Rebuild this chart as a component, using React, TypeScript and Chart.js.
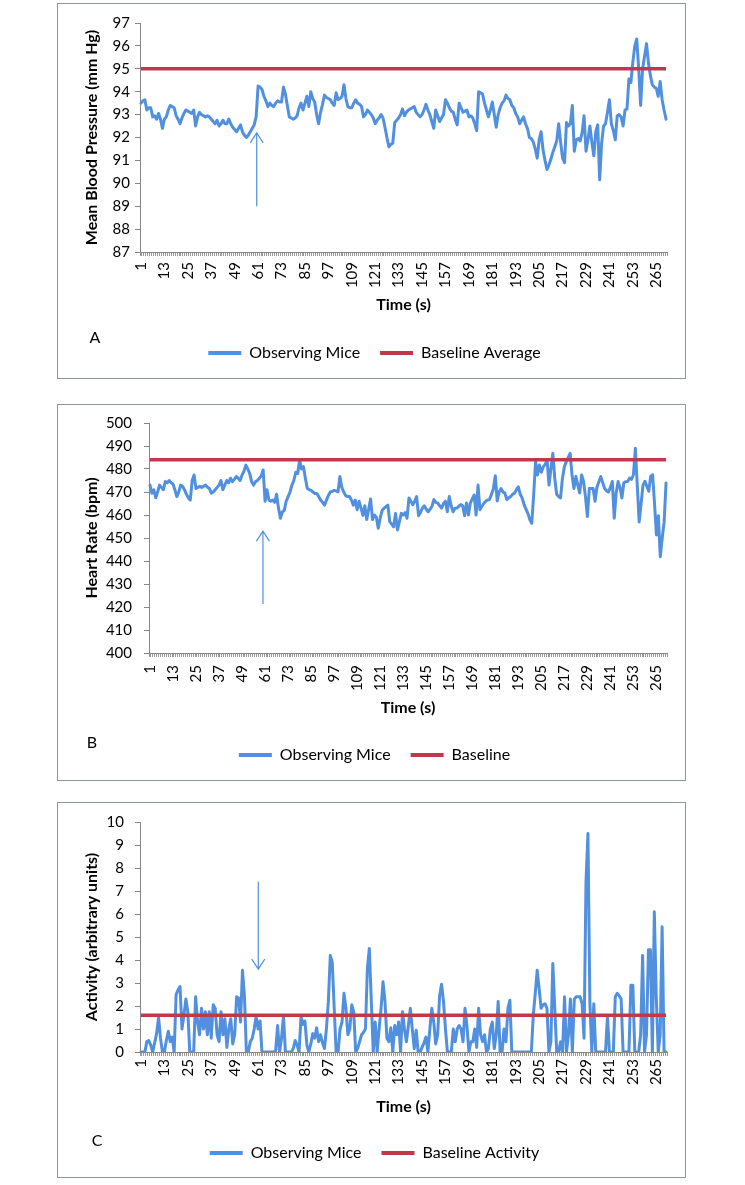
import React, { useEffect, useRef } from 'react';
import { Chart, registerables } from 'chart.js';

Chart.register(...registerables);

// ---------------- DATA ----------------
const timeSeconds: string[] = Array.from({ length: 270 }, (_, i) => String(i + 1));
const shownTickLabels: string[] = ['1', '13', '25', '37', '49', '61', '73', '85', '97', '109', '121', '133', '145', '157', '169', '181', '193', '205', '217', '229', '241', '253', '265'];

const bloodPressure: number[] = [
  93.5, 93.6, 93.65, 93.2, 93.3, 93.3, 92.9, 92.95, 92.8, 93.05,
  92.8, 92.4, 92.8, 92.9, 93.2, 93.4, 93.35, 93.3, 92.95, 92.8,
  92.6, 92.85, 93.05, 93.2, 93.15, 93.1, 93.05, 93.2, 92.5, 92.9,
  93.1, 93.0, 92.95, 92.9, 92.95, 92.9, 92.8, 92.7, 92.6, 92.75,
  92.5, 92.6, 92.75, 92.6, 92.6, 92.8, 92.6, 92.45, 92.35, 92.25,
  92.4, 92.55, 92.25, 92.1, 92.0, 92.1, 92.25, 92.4, 92.55, 92.9,
  94.25, 94.2, 94.1, 93.8, 93.6, 93.35, 93.5, 93.4, 93.35, 93.5,
  93.6, 93.55, 93.55, 94.2, 93.9, 93.4, 92.9, 92.85, 92.8, 92.85,
  92.95, 93.3, 93.5, 93.2, 93.5, 93.8, 93.35, 94.0, 93.7, 93.55,
  93.0, 92.6, 93.1, 93.45, 93.85, 93.75, 93.7, 93.65, 93.5, 93.4,
  93.95, 93.65, 93.7, 93.8, 94.3, 93.7, 93.35, 93.3, 93.3, 93.5,
  93.65, 93.5, 93.45, 93.35, 92.9, 93.0, 93.2, 93.1, 93.0, 92.85,
  92.6, 92.75, 92.85, 93.0, 92.85, 92.45, 92.0, 91.6, 91.7, 91.75,
  92.65, 92.75, 92.85, 93.0, 93.25, 92.95, 93.1, 93.2, 93.25, 93.3,
  93.35, 93.1, 93.0, 92.9, 93.0, 93.2, 93.45, 93.2, 93.0, 92.7,
  92.4, 93.2, 92.95, 92.7, 92.85, 93.0, 93.65, 93.5, 93.3, 93.15,
  93.1, 92.8, 92.55, 93.5, 93.3, 93.1, 93.15, 93.2, 92.9, 92.95,
  92.85, 92.6, 92.3, 94.0, 93.95, 93.9, 93.5, 93.2, 92.9, 93.2,
  93.55, 93.0, 92.45, 93.0, 93.3, 93.5, 93.6, 93.85, 93.7, 93.65,
  93.4, 93.3, 93.05, 92.9, 92.6, 92.75, 92.9, 92.6, 92.4, 92.0,
  91.95, 91.8, 91.5, 91.1, 91.9, 92.25, 91.45, 91.0, 90.6, 90.8,
  91.05, 91.35, 91.6, 91.85, 92.6, 91.8, 91.1, 90.9, 92.65, 92.5,
  92.6, 93.4, 91.4, 91.9, 91.95, 91.85, 92.2, 92.95, 91.4, 91.9,
  92.5, 91.8, 91.2, 92.25, 92.55, 90.15, 91.75, 92.5, 92.6, 93.1,
  93.65, 92.6, 92.3, 91.9, 92.95, 93.0, 92.9, 92.5, 93.2, 93.25,
  94.55, 94.4, 95.3, 96.0, 96.3, 95.0, 93.4, 95.0, 95.55, 96.1,
  95.25, 94.7, 94.3, 94.2, 94.15, 93.8, 94.45, 93.65, 93.2, 92.8,
];
const bloodPressureBaseline = 95;

const heartRate: number[] = [
  473, 469.5, 471, 467.5, 470, 473, 472, 471, 474.5, 474,
  475, 474, 473.5, 471, 468, 470, 473, 472.5, 471, 469,
  467.5, 466.5, 475, 477.4, 471.5, 472, 472.5, 472, 472.5, 473,
  472, 471.5, 469.5, 470, 471, 472, 473, 475, 471, 473,
  475, 474, 476, 474.5, 475.5, 476.7, 476, 475, 477.4, 479,
  481.7, 480, 478, 474.5, 473, 474.5, 475, 476, 477, 479.6,
  466, 471, 466.5, 466, 466.5, 465.5, 469, 463, 458.6, 461.3,
  462, 466, 468, 470, 473, 475, 478.6, 478, 483.9, 480,
  481, 476, 471.6, 471, 470.7, 470, 469.3, 469.3, 468, 466.4,
  465.5, 464.3, 466.5, 468.5, 470, 470.3, 470.7, 470.5, 470, 476.7,
  472, 470, 468.5, 468, 468, 466.5, 464.3, 466.5, 462.3, 466,
  463, 459.8, 464, 458, 462.5, 467, 458, 460, 459, 454.2,
  458.6, 462, 462.9, 463.6, 464.3, 457.1, 456, 454.9, 460.7, 453.5,
  457, 460.7, 460, 461, 458.6, 467.4, 466, 464.5, 466, 468,
  459.7, 461, 463, 464, 462.5, 461.4, 462.5, 463.8, 466.7, 465.5,
  465.2, 464, 463, 465, 466, 461.4, 468, 464, 461.4, 462.9,
  463, 463.8, 464.5, 464, 459.7, 465.2, 460, 465.2, 467, 468.7,
  460, 473, 462.3, 463.8, 465, 466, 466.5, 466.7, 469, 471.3,
  477.1, 466.1, 470, 471.5, 470, 469.5, 466.7, 467.5, 468, 469,
  469.5, 471, 472.2, 469, 467.4, 464.5, 462.5, 460.7, 458, 456.4,
  468.7, 483.2, 477.4, 481.7, 478.6, 480.9, 482, 484, 473, 480.3,
  486.8, 475.9, 469, 468, 467.4, 475.9, 481, 483.2, 485, 486.8,
  477.4, 471.5, 476.8, 473, 469.6, 477.4, 474.6, 468, 459.3, 471.5,
  471.5, 471.5, 466, 472.2, 474.5, 476.7, 474, 471.5, 470.5, 470,
  472, 474.6, 458.6, 469.6, 474.6, 472, 467.4, 474, 474.5, 474.6,
  476.1, 475.5, 477.5, 489, 473, 457, 465, 473, 474.6, 472.5,
  470.3, 476.8, 477.5, 465, 451.3, 459.7, 441.9, 450, 456.9, 473.9,
];
const heartRateBaseline = 484;

const activity: number[] = [
  0, 0, 0, 0.45, 0.5, 0.3, 0, 0.4, 0.8, 1.5,
  0.6, 0, 0, 0.5, 0.9, 0.45, 0.65, 0, 2.5, 2.7,
  2.85, 1.0, 1.6, 2.3, 1.75, 0, 0, 0, 2.4, 1.3,
  0.75, 1.9, 1.0, 1.75, 0.75, 1.75, 0.6, 2.05, 1.9, 0.75,
  0.45, 1.75, 0.75, 1.45, 0.2, 1.0, 1.45, 0.35, 0.75, 2.4,
  2.35, 1.3, 3.55, 2.45, 0, 0, 0.45, 0.6, 1.0, 1.55,
  1.0, 1.35, 0, 0, 0, 0, 0, 0, 0, 0.05,
  1.15, 0, 0.6, 1.55, 0, 0, 0, 0, 0.15, 0.5,
  0.3, 0, 1.55, 1.2, 1.35, 0.3, 0, 0.35, 0.8, 0.6,
  1.05, 0.45, 0.75, 0.4, 0.15, 1.0, 2.2, 4.2, 3.9, 1.9,
  0, 0, 1.0, 1.3, 2.55, 1.9, 0.75, 1.0, 2.05, 1.75,
  0, 0.15, 0.45, 0.75, 0.85, 1.0, 3.65, 4.5, 2.2, 0,
  1.3, 0, 1.0, 1.9, 3.05, 2.2, 0.6, 0.45, 1.05, 0,
  1.15, 0.75, 1.3, 0, 1.75, 1.0, 0.45, 1.15, 1.9, 1.0,
  0.15, 0.95, 0, 0, 0.2, 0.4, 0.65, 0, 1.0, 1.9,
  1.3, 0.35, 0.75, 2.45, 2.95, 2.2, 1.0, 0, 0, 0,
  1.0, 0.45, 1.0, 1.15, 1.0, 0.45, 1.9, 1.15, 0, 0.45,
  0.45, 1.0, 0.2, 1.9, 0.75, 0.45, 0.75, 0, 0.15, 1.0,
  1.3, 0.15, 0.75, 2.2, 0, 0, 1.0, 0.45, 1.9, 2.25,
  0, 0, 0, 0, 0, 0, 0, 0, 0, 0,
  0, 1.6, 2.55, 3.55, 2.75, 1.9, 2.05, 2.1, 1.9, 0,
  0.45, 3.85, 1.9, 0, 0, 0.45, 0, 2.4, 0, 0.75,
  2.3, 0, 2.3, 2.4, 2.4, 2.4, 2.1, 0.6, 7.4, 9.5,
  2.1, 0, 2.1, 0, 0, 0, 0, 0, 0, 1.55,
  0, 0, 0, 2.4, 2.55, 2.45, 2.3, 0, 0, 0,
  0, 2.9, 2.9, 0, 0, 0, 0.75, 4.2, 0, 0.75,
  4.45, 4.45, 0, 6.1, 2.4, 0, 0.75, 5.45, 0, 0,
];
const activityBaseline = 1.6;

// arrow annotations (time in s, value from -> to)
const arrowA = { t: 60.3, from: 89.0, to: 92.2 };
const arrowB = { t: 59.9, from: 421.3, to: 453 };
const arrowC = { t: 61.1, from: 7.4, to: 3.6 };

// ---------------- STYLE ----------------
const BLUE = '#5190DE';
const RED = '#BE3A4B';
const AXIS = '#868686';
const FONT = "Lato, 'Open Sans', sans-serif";
const TICK_SIZE = 15;
const TITLE_SIZE = 16;
const LEGEND_SIZE = 16;
const LEGEND_PAD = 20;
const CANVAS_W = 627;

type PanelCfg = {
  top: number; height: number; letter: string; letterX: number; letterY: number;
  yTitle: string; yMin: number; yMax: number; yStep: number;
  values: number[]; baseline: number; seriesName: string; baselineName: string;
  plotLeft: number; padTop: number; plotBottom: number; timeY: number; legendY: number;
  yTickPad: number; xTickPad: number; arrow: { t: number; from: number; to: number };
};

const panels: PanelCfg[] = [
  {
    top: 3, height: 374, letter: 'A', letterX: 95, letterY: 337,
    yTitle: 'Mean Blood Pressure (mm Hg)', yMin: 87, yMax: 97, yStep: 1,
    values: bloodPressure, baseline: bloodPressureBaseline, seriesName: 'Observing Mice', baselineName: 'Baseline Average',
    plotLeft: 82, padTop: 19, plotBottom: 248, timeY: 301, legendY: 349, yTickPad: 5, xTickPad: 6, arrow: arrowA,
  },
  {
    top: 404, height: 375, letter: 'B', letterX: 92, letterY: 742,
    yTitle: 'Heart Rate (bpm)', yMin: 400, yMax: 500, yStep: 10,
    values: heartRate, baseline: heartRateBaseline, seriesName: 'Observing Mice', baselineName: 'Baseline',
    plotLeft: 91, padTop: 18, plotBottom: 248, timeY: 303, legendY: 350, yTickPad: 12, xTickPad: 8, arrow: arrowB,
  },
  {
    top: 802, height: 374, letter: 'C', letterX: 97, letterY: 1140,
    yTitle: 'Activity (arbitrary units)', yMin: 0, yMax: 10, yStep: 1,
    values: activity, baseline: activityBaseline, seriesName: 'Observing Mice', baselineName: 'Baseline Activity',
    plotLeft: 82, padTop: 19, plotBottom: 249, timeY: 304, legendY: 350, yTickPad: 11, xTickPad: 3, arrow: arrowC,
  },
];

function Panel({ cfg }: { cfg: PanelCfg }) {
  const ref = useRef<HTMLCanvasElement | null>(null);

  useEffect(() => {
    if (!ref.current) return;
    const H = cfg.height;
    const padLeft = 24;
    const padRight = 18;
    const legendH = LEGEND_SIZE + LEGEND_PAD + 10;
    const legendTop = cfg.legendY - LEGEND_PAD - LEGEND_SIZE / 2;
    const padBottom = H - legendTop - legendH;
    const xAxisH = legendTop - cfg.plotBottom;
    const titleLH = TITLE_SIZE * 1.2;
    const xTitlePad = legendTop - cfg.timeY - titleLH / 2;
    const yAxisW = cfg.plotLeft - padLeft;
    const yTitlePad = 34 - padLeft - titleLH / 2;
    const shown = new Set(shownTickLabels);

    const arrowPlugin = {
      id: 'arrow',
      afterDatasetsDraw(chart: any) {
        const { ctx, scales } = chart;
        const x = scales.x.getPixelForValue(cfg.arrow.t - 1);
        const y0 = scales.y.getPixelForValue(cfg.arrow.from);
        const y1 = scales.y.getPixelForValue(cfg.arrow.to);
        const dir = y1 < y0 ? 1 : -1;
        ctx.save();
        ctx.strokeStyle = BLUE;
        ctx.lineWidth = 1.2;
        ctx.beginPath();
        ctx.moveTo(x, y0);
        ctx.lineTo(x, y1);
        ctx.moveTo(x - 6.5, y1 + dir * 10);
        ctx.lineTo(x, y1);
        ctx.lineTo(x + 6.5, y1 + dir * 10);
        ctx.stroke();
        ctx.restore();
      },
    };

    const chart = new Chart(ref.current, {
      type: 'line',
      data: {
        labels: timeSeconds,
        datasets: [
          {
            label: cfg.seriesName, data: cfg.values, borderColor: BLUE, backgroundColor: BLUE,
            borderWidth: 3, pointRadius: 0, tension: 0, order: 2,
            borderJoinStyle: 'round', borderCapStyle: 'round',
          },
          {
            label: cfg.baselineName, data: cfg.values.map(() => cfg.baseline), borderColor: RED, backgroundColor: RED,
            borderWidth: 3.5, pointRadius: 0, tension: 0, order: 1,
          },
        ],
      },
      options: {
        animation: false,
        responsive: false,
        devicePixelRatio: 1,
        layout: { padding: { left: padLeft, right: padRight, top: cfg.padTop, bottom: padBottom } },
        plugins: {
          tooltip: { enabled: false },
          legend: {
            position: 'bottom',
            labels: {
              boxWidth: 33, boxHeight: 4, padding: LEGEND_PAD, color: '#000',
              font: { family: FONT, size: LEGEND_SIZE },
              sort: (a: any, b: any) => a.datasetIndex - b.datasetIndex,
              generateLabels: (c: any) =>
                (Chart.defaults.plugins.legend.labels.generateLabels as any)(c).map((l: any) => ({ ...l, lineWidth: 0 })),
            },
          },
        },
        scales: {
          x: {
            type: 'category',
            offset: true,
            grid: { display: true, drawOnChartArea: false, offset: true, tickLength: 4, color: '#9a9a9a', lineWidth: 1 },
            border: { color: AXIS, width: 1 },
            ticks: {
              autoSkip: false, maxRotation: 90, minRotation: 90, padding: cfg.xTickPad, color: '#000',
              font: { family: FONT, size: TICK_SIZE },
              callback: (_v: any, i: number) => (shown.has(timeSeconds[i]) ? timeSeconds[i] : ''),
            },
            title: {
              display: true, text: 'Time (s)', color: '#000',
              font: { family: FONT, size: TITLE_SIZE, weight: 'bold' },
              padding: { top: 0, bottom: xTitlePad },
            },
            afterFit: (s: any) => { s.height = xAxisH; s.paddingLeft = 0; s.paddingRight = 0; },
          },
          y: {
            min: cfg.yMin, max: cfg.yMax,
            grid: { display: true, drawOnChartArea: false, tickLength: 5, color: AXIS },
            border: { color: AXIS, width: 1 },
            ticks: { stepSize: cfg.yStep, padding: cfg.yTickPad, color: '#000', font: { family: FONT, size: TICK_SIZE } },
            title: {
              display: true, text: cfg.yTitle, color: '#000',
              font: { family: FONT, size: TITLE_SIZE, weight: 'bold' },
              padding: { top: yTitlePad, bottom: 0 },
            },
            afterFit: (s: any) => { s.width = yAxisW; s.paddingTop = 0; s.paddingBottom = 0; },
          },
        },
      } as any,
      plugins: [arrowPlugin],
    });
    return () => chart.destroy();
  }, [cfg]);

  return (
    <>
      <div
        style={{
          position: 'absolute', left: 57, top: cfg.top, width: CANVAS_W, height: cfg.height,
          border: '1px solid #8f9696', background: '#fff',
        }}
      >
        <canvas ref={ref} width={CANVAS_W} height={cfg.height} style={{ display: 'block' }} />
      </div>
      <div
        style={{
          position: 'absolute', left: cfg.letterX, top: cfg.letterY, transform: 'translate(-50%, -50%)',
          fontFamily: FONT, fontSize: 16, lineHeight: '16px', color: '#000',
        }}
      >
        {cfg.letter}
      </div>
    </>
  );
}

export default function App() {
  return (
    <div style={{ position: 'absolute', left: 0, top: 0, width: 745, height: 1185, background: '#fff' }}>
      {panels.map((p) => (
        <Panel key={p.letter} cfg={p} />
      ))}
    </div>
  );
}
